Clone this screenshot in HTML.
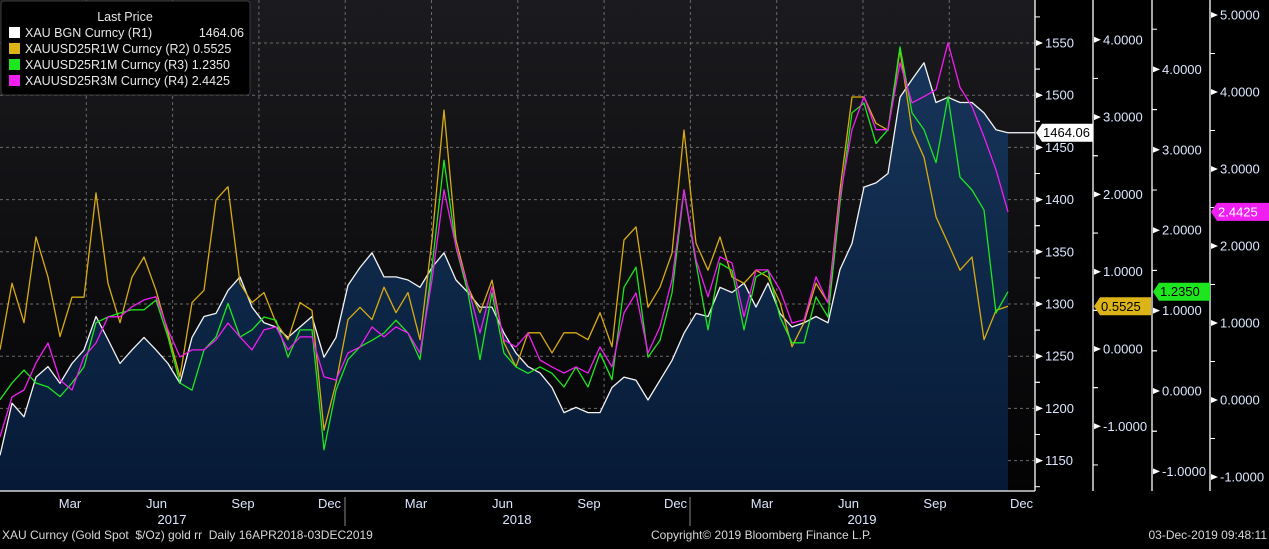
<!DOCTYPE html>
<html><head><meta charset="utf-8">
<style>
html,body{margin:0;padding:0;background:#000;}
body{width:1269px;height:544px;overflow:hidden;font-family:"Liberation Sans",sans-serif;}
svg text{font-family:"Liberation Sans",sans-serif;}
</style></head>
<body>
<svg id="chart" width="1269" height="544" viewBox="0 0 1269 544" xmlns="http://www.w3.org/2000/svg">
<defs>
<linearGradient id="bgG" x1="0" y1="0" x2="0" y2="1"><stop offset="0" stop-color="#1b1b1f"/><stop offset="1" stop-color="#030304"/></linearGradient>
<linearGradient id="areaG" x1="0" y1="0" x2="0" y2="1"><stop offset="0" stop-color="#17355a"/><stop offset="1" stop-color="#061a36"/></linearGradient>
</defs>
<rect x="0" y="0" width="1035" height="491" fill="url(#bgG)"/>
<g id="grid"></g>
<g id="series"></g>
<g id="axes"></g>
<g>
<rect x="1" y="1" width="249" height="94" rx="3" fill="#000" stroke="#3a3a3a"/>
<text x="125" y="21" fill="#e8e8e8" font-size="12.5" text-anchor="middle">Last Price</text>
<g><rect x="9" y="27" width="11" height="11" fill="#fff"/><text x="25" y="37" fill="#e8e8e8" font-size="12.5">XAU BGN Curncy  (R1)</text><text x="244" y="37" fill="#e8e8e8" font-size="12.5" text-anchor="end">1464.06</text></g>
<g><rect x="9" y="43" width="11" height="11" fill="#dcb418"/><text x="25" y="53" fill="#e8e8e8" font-size="12.5">XAUUSD25R1W Curncy  (R2) 0.5525</text></g>
<g><rect x="9" y="59" width="11" height="11" fill="#1ee61e"/><text x="25" y="69" fill="#e8e8e8" font-size="12.5">XAUUSD25R1M Curncy  (R3) 1.2350</text></g>
<g><rect x="9" y="75" width="11" height="11" fill="#f01ef0"/><text x="25" y="85" fill="#e8e8e8" font-size="12.5">XAUUSD25R3M Curncy  (R4) 2.4425</text></g>
</g>
<g>
<text x="2" y="539" fill="#d8d8d8" font-size="12" xml:space="preserve">XAU Curncy (Gold Spot  $/Oz) gold rr  Daily 16APR2018-03DEC2019</text>
<text x="651" y="539" fill="#d8d8d8" font-size="12">Copyright© 2019 Bloomberg Finance L.P.</text>
<text x="1267" y="539" fill="#d8d8d8" font-size="12" text-anchor="end">03-Dec-2019 09:48:11</text>
</g>
</svg>
<script>
const categories = Array.from({length:85},(_, i)=>'w'+i);
const goldValues = [1155,1205,1192,1230,1240,1224,1243,1256,1288,1266,
1243,1256,1268,1256,1243,1224,1268,1288,1291,1313,
1326,1297,1282,1278,1268,1278,1288,1249,1268,1318,
1335,1349,1326,1326,1323,1316,1335,1349,1323,1311,
1297,1297,1272,1253,1240,1234,1220,1196,1201,1196,
1196,1220,1230,1227,1208,1227,1246,1272,1291,1288,
1316,1311,1320,1297,1320,1291,1278,1282,1288,1282,
1333,1358,1412,1416,1425,1498,1515,1531,1493,1498,
1493,1493,1483,1467,1464.06];
const rr1wValues = [-0.01,0.85,0.34,1.45,0.93,0.16,0.67,0.67,2.02,0.85,
0.34,0.93,1.19,0.76,0.21,-0.36,0.60,0.76,1.93,2.10,
0.85,0.60,0.73,0.34,0.12,0.60,0.50,-1.05,-0.44,0.38,
0.54,0.38,0.80,0.47,0.73,0.12,1.41,3.09,1.41,0.80,
0.47,0.89,0.08,-0.23,0.21,0.21,-0.05,0.21,0.21,0.12,
0.47,0.03,1.41,1.58,0.54,0.80,1.24,2.83,1.37,1.02,
1.45,0.93,0.85,1.02,0.93,0.60,0.03,0.34,0.85,0.60,
2.06,3.26,3.26,2.92,2.83,3.87,2.83,2.48,1.71,1.37,
1.02,1.19,0.12,0.50,0.5525];
const rr1mValues = [-0.11,0.10,0.26,0.10,0.05,-0.07,0.10,0.30,0.85,0.92,
0.97,1.01,1.01,1.13,0.67,0.10,0.01,0.51,0.67,1.09,
0.67,0.76,0.92,0.88,0.42,0.76,0.76,-0.73,0.01,0.39,
0.55,0.63,0.72,0.88,0.72,0.39,1.54,2.87,1.79,1.22,
0.39,1.22,0.47,0.30,0.22,0.30,0.22,0.05,0.30,0.05,
0.47,0.14,1.29,1.54,0.42,0.63,1.22,2.50,1.59,0.76,
1.59,1.50,0.76,1.42,1.50,0.92,0.60,0.60,1.17,0.92,
2.34,3.46,3.58,3.08,3.25,4.28,3.46,3.25,2.84,3.66,
2.66,2.50,2.25,0.97,1.235];
const rr3mValues = [-0.48,0.04,0.13,0.48,0.74,0.26,0.13,0.56,0.74,1.08,
1.08,1.21,1.30,1.34,0.91,0.56,0.65,0.65,0.78,1.00,
0.82,0.65,0.91,0.95,0.65,0.82,0.82,0.30,0.26,0.61,
0.69,0.95,0.82,0.95,0.87,0.61,1.56,2.73,1.99,1.47,
0.87,1.47,0.78,0.69,0.87,0.52,0.43,0.35,0.43,0.35,
0.69,0.43,1.13,1.39,0.61,0.95,1.56,2.73,1.82,1.34,
1.86,1.78,1.08,1.69,1.69,1.43,1.00,1.04,1.60,1.26,
2.64,3.51,3.94,3.51,3.51,4.38,3.86,3.94,4.03,4.64,
4.06,3.81,3.42,2.99,2.4425];
const r1Ticks = [1150,1200,1250,1300,1350,1400,1450,1500,1550];
const r2Ticks = [-1,0,1,2,3,4];
const r3Ticks = [-1,0,1,2,3,4];
const r4Ticks = [-1,0,1,2,3,4,5];
const monthLabels = ['Mar','Jun','Sep','Dec','Mar','Jun','Sep','Dec','Mar','Jun','Sep','Dec'];
const yearLabels = ['2017','2018','2019'];

const NS='http://www.w3.org/2000/svg';
const PW=1008;
const xS = i => i*PW/(categories.length-1);
const yG = v => 43 + (1550-v)*52.2/50;
const yR2 = v => 349 - v*77.3;
const yR3 = v => 391 - v*80.4;
const yR4 = v => 400 - v*77;
function mk(tag, attrs, parent){const e=document.createElementNS(NS,tag);for(const k in attrs)e.setAttribute(k,attrs[k]);parent.appendChild(e);return e;}
const grid=document.getElementById('grid'), ser=document.getElementById('series'), ax=document.getElementById('axes');

r1Ticks.forEach(t=>{const l=mk('line',{x1:0,x2:1035,y1:yG(t),y2:yG(t),stroke:'#6a6a6a','stroke-dasharray':'3,3','stroke-width':1},grid);

});
for(let k=1;k<=11;k++){const x=k*86.3;const l=mk('line',{x1:x,x2:x,y1:0,y2:491,stroke:'#6a6a6a','stroke-dasharray':'3,3','stroke-width':1},grid);

}

let d='M0,491 '; goldValues.forEach((v,i)=>{d+='L'+xS(i).toFixed(1)+','+yG(v).toFixed(1)+' ';}); d+='L'+xS(goldValues.length-1)+',491 Z';
const area=mk('path',{d:d,fill:'url(#areaG)'},ser);



function line(vals,ys,color,name){const p=vals.map((v,i)=>xS(i).toFixed(1)+','+ys(v).toFixed(1)).join(' ');
const e=mk('polyline',{points:p,fill:'none',stroke:color,'stroke-width':1.3,'stroke-linejoin':'round'},ser);

}
line(goldValues,yG,'#f4f4f4','gold-line');
const last=goldValues[goldValues.length-1];
const ext=mk('line',{x1:PW,x2:1035,y1:yG(last),y2:yG(last),stroke:'#fff','stroke-width':1.3},ser);


line(rr1wValues,yR2,'#d8ac10','rr-1w-line');
line(rr1mValues,yR3,'#1ee61e','rr-1m-line');
line(rr3mValues,yR4,'#f01ef0','rr-3m-line');

function axis(x,ticks,ys,fmt,name,minor){
 const a=mk('line',{x1:x,x2:x,y1:0,y2:491,stroke:'#fff','stroke-width':1.3},ax);
 
 
 ticks.forEach((t,i)=>{const y=ys(t);
  mk('path',{d:`M${x+1},${y-3} L${x+8},${y} L${x+1},${y+3} Z`,fill:'#fff'},ax);
  const tx=mk('text',{x:x+10,y:y+4.5,fill:'#dde6ff','font-size':13},ax);tx.textContent=fmt(t);
  
  
  if(minor){[0.5,-0.5].forEach(o=>{const ym=ys(t+o*minor);if(ym>2&&ym<489)mk('line',{x1:x,x2:x+5,y1:ym,y2:ym,stroke:'#fff'},ax);});}
 });
}
axis(1035,r1Ticks,yG,t=>String(t),'r1-axis',50);
axis(1093,r2Ticks,yR2,t=>(t<0?'-':'')+Math.abs(t).toFixed(4),'r2-axis',1);
axis(1152,r3Ticks,yR3,t=>(t<0?'-':'')+Math.abs(t).toFixed(4),'r3-axis',1);
axis(1210,r4Ticks,yR4,t=>(t<0?'-':'')+Math.abs(t).toFixed(4),'r4-axis',1);
const bl=mk('line',{x1:0,x2:1035,y1:491,y2:491,stroke:'#fff','stroke-width':1.3},ax);



function tag(x,y,w,txt,bg,fg,name){
 const g=mk('g',{},ax);
 
 
 mk('path',{d:`M${x},${y} L${x+6},${y-9} L${x+w},${y-9} L${x+w},${y+9} L${x+6},${y+9} Z`,fill:bg},g);
 const t=mk('text',{x:x+7,y:y+4.5,fill:fg,'font-size':13},g);t.textContent=txt;
}
tag(1036,yG(last),57,last.toFixed(2),'#fff','#000','last-price-tag-gold');
tag(1094,yR2(rr1wValues[84]),57,rr1wValues[84].toFixed(4),'#dcb418','#000','last-price-tag-r2');
tag(1153,yR3(rr1mValues[84]),57,rr1mValues[84].toFixed(4),'#1ee61e','#000','last-price-tag-r3');
tag(1211,yR4(rr3mValues[84]),58,rr3mValues[84].toFixed(4),'#f01ef0','#fff','last-price-tag-r4');

monthLabels.forEach((m,i)=>{const x=70+i*86.5;const t=mk('text',{x:x,y:508,fill:'#dde6ff','font-size':13,'text-anchor':'middle'},ax);t.textContent=m;

});
yearLabels.forEach((y,i)=>{const t=mk('text',{x:172+i*345,y:524,fill:'#dde6ff','font-size':13,'text-anchor':'middle'},ax);t.textContent=y;

});
[345,690].forEach(x=>{const l=mk('line',{x1:x,x2:x,y1:497,y2:526,stroke:'#888'},ax);

});
</script>
</body></html>
